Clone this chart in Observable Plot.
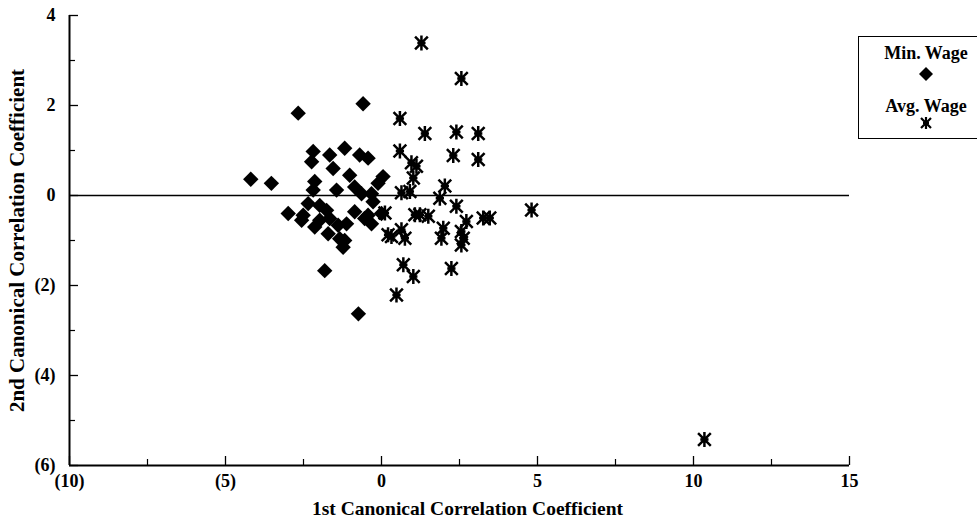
<!DOCTYPE html>
<html><head><meta charset="utf-8">
<script src="https://cdn.jsdelivr.net/npm/d3@7"></script>
<script src="https://cdn.jsdelivr.net/npm/@observablehq/plot@0.6"></script>
<style>
html,body{margin:0;background:#fff;overflow:hidden;}
#wrap{position:relative;width:977px;height:525px;overflow:hidden;}
#legend{position:absolute;left:858px;top:36px;width:136px;height:103px;border:1.5px solid #000;box-sizing:border-box;font-family:"Liberation Serif",serif;font-weight:bold;font-size:18px;color:#000;}
#legend .it{position:absolute;left:67px;transform:translate(-50%,-50%);white-space:nowrap;line-height:1;}
</style></head><body>
<div id="wrap">
<div id="chart"></div>
<div id="legend">
  <div class="it" style="top:16px">Min. Wage</div>
  <div class="it" style="top:37px;height:16px"><svg width="16" height="16" viewBox="-8 -8 16 16" style="display:block"><path d="M0,-7L7,0L0,7L-7,0Z" fill="#000"/></svg></div>
  <div class="it" style="top:69px">Avg. Wage</div>
  <div class="it" style="top:86px;height:14px"><svg width="14" height="14" viewBox="-7 -7 14 14" style="display:block"><path d="M-5,-5L5,5M-5,5L5,-5M0,-6L0,6M-3,0L3,0" stroke="#000" stroke-width="2.2" fill="none"/></svg></div>
</div>
</div>
<script>
// Minimum wage (diamonds)
const minX = [-2.67,-0.59,-4.19,-3.53,-2.19,-2.24,-1.66,-1.18,-0.70,-0.43,-1.55,-1.02,0.05,-2.14,-2.19,-1.44,-0.86,-0.64,-0.32,-0.27,-2.35,-1.98,-2.51,-1.76,-1.66,-1.98,-1.39,-1.12,-0.54,-0.86,0.00,-0.32,-1.71,-1.34,-2.14,-2.99,-2.56,-1.18,-1.23,-1.82,-0.74,-0.11,-0.43];
const minY = [1.83,2.04,0.36,0.27,0.98,0.75,0.90,1.05,0.90,0.83,0.60,0.45,0.42,0.31,0.12,0.12,0.19,0.04,0.04,-0.14,-0.18,-0.22,-0.44,-0.33,-0.51,-0.55,-0.66,-0.63,-0.51,-0.36,-0.40,-0.63,-0.85,-0.96,-0.70,-0.40,-0.55,-1.00,-1.15,-1.67,-2.63,0.27,-0.44];
// Average wage (asterisks)
const avgX = [1.28,2.56,0.59,1.39,2.40,3.10,2.30,3.10,0.59,0.96,1.12,1.02,0.64,0.91,2.03,1.87,2.40,0.11,1.07,1.23,1.50,2.72,3.26,3.47,0.64,0.32,1.98,1.92,2.56,2.62,2.56,0.70,1.02,2.24,0.48,4.81,10.35,0.75,0.21];
const avgY = [3.39,2.60,1.71,1.38,1.41,1.38,0.89,0.80,0.99,0.73,0.65,0.39,0.06,0.09,0.21,-0.06,-0.24,-0.39,-0.43,-0.43,-0.46,-0.58,-0.50,-0.50,-0.76,-0.91,-0.73,-0.95,-0.80,-0.95,-1.10,-1.54,-1.80,-1.62,-2.21,-0.32,-5.42,-0.95,-0.87];

const xDomain = [-10, 15];
const yDomain = [-6, 4];
const xMajor = [-10, -5, 0, 5, 10, 15];
const xMinor = [-7.5, -2.5, 2.5, 7.5, 12.5];
const yMajor = [-6, -4, -2, 0, 2, 4];
const yMinor = [-5, -3, -1, 1, 3];
const xTitle = "1st Canonical Correlation Coefficient";
const yTitle = "2nd Canonical Correlation Coefficient";

const minData = minX.map((x, i) => ({x, y: minY[i]}));
const avgData = avgX.map((x, i) => ({x, y: avgY[i]}));

const fmt = d => d < 0 ? `(${-d})` : `${d}`;
const blank = () => "";

const diamondSym = {
  draw(ctx, size) {
    const r = Math.sqrt(size / Math.PI) * 1.1;
    ctx.moveTo(0, -r); ctx.lineTo(r, 0); ctx.lineTo(0, r); ctx.lineTo(-r, 0); ctx.closePath();
  }
};
const asteriskSym = {
  draw(ctx, size) {
    const r = Math.sqrt(size / Math.PI);
    const d = r * 0.85;
    ctx.moveTo(-d, -d); ctx.lineTo(d, d);
    ctx.moveTo(-d, d); ctx.lineTo(d, -d);
    ctx.moveTo(0, -r); ctx.lineTo(0, r);
    ctx.moveTo(-r * 0.55, 0); ctx.lineTo(r * 0.55, 0);
  }
};

const font = {fontSize: 18, fontWeight: "bold"};

const chart = Plot.plot({
  width: 977,
  height: 525,
  marginLeft: 69,
  marginRight: 128,
  marginTop: 15,
  marginBottom: 60,
  style: {fontFamily: '"Liberation Serif", "Times New Roman", serif', color: "#000", background: "#fff"},
  x: {domain: xDomain},
  y: {domain: yDomain},
  marks: [
    Plot.ruleY([0], {stroke: "#000", strokeWidth: 1.5}),
    Plot.ruleX([xDomain[0]], {stroke: "#000", strokeWidth: 2}),
    Plot.ruleY([yDomain[0]], {stroke: "#000", strokeWidth: 2}),
    Plot.axisX(xMajor, {tickSize: -9, tickFormat: blank, label: null, strokeWidth: 1.3}),
    Plot.axisX(xMinor, {tickSize: -6, tickFormat: blank, label: null, strokeWidth: 1.2}),
    Plot.axisX(xMajor, {tickSize: 0, tickPadding: 9, tickFormat: fmt, label: null, ...font}),
    Plot.axisY(yMajor, {tickSize: -9, tickFormat: blank, label: null, strokeWidth: 1.3}),
    Plot.axisY(yMinor, {tickSize: -6, tickFormat: blank, label: null, strokeWidth: 1.2}),
    Plot.axisY(yMajor, {tickSize: 0, tickPadding: 14, tickFormat: fmt, label: null, ...font}),
    Plot.text([xTitle], {text: d => d, frameAnchor: "bottom", textAnchor: "middle", dx: 8, dy: 49, fontSize: 19.5, fontWeight: "bold"}),
    Plot.text([yTitle], {text: d => d, frameAnchor: "left", textAnchor: "middle", dx: -52, rotate: -90, fontSize: 21, fontWeight: "bold"}),
    Plot.dot(minData, {x: "x", y: "y", symbol: diamondSym, r: 7, fill: "#000", stroke: "none"}),
    Plot.dot(avgData, {x: "x", y: "y", symbol: asteriskSym, r: 7.5, fill: "none", stroke: "#000", strokeWidth: 2.5})
  ]
});
document.getElementById("chart").appendChild(chart);
</script>
</body></html>
